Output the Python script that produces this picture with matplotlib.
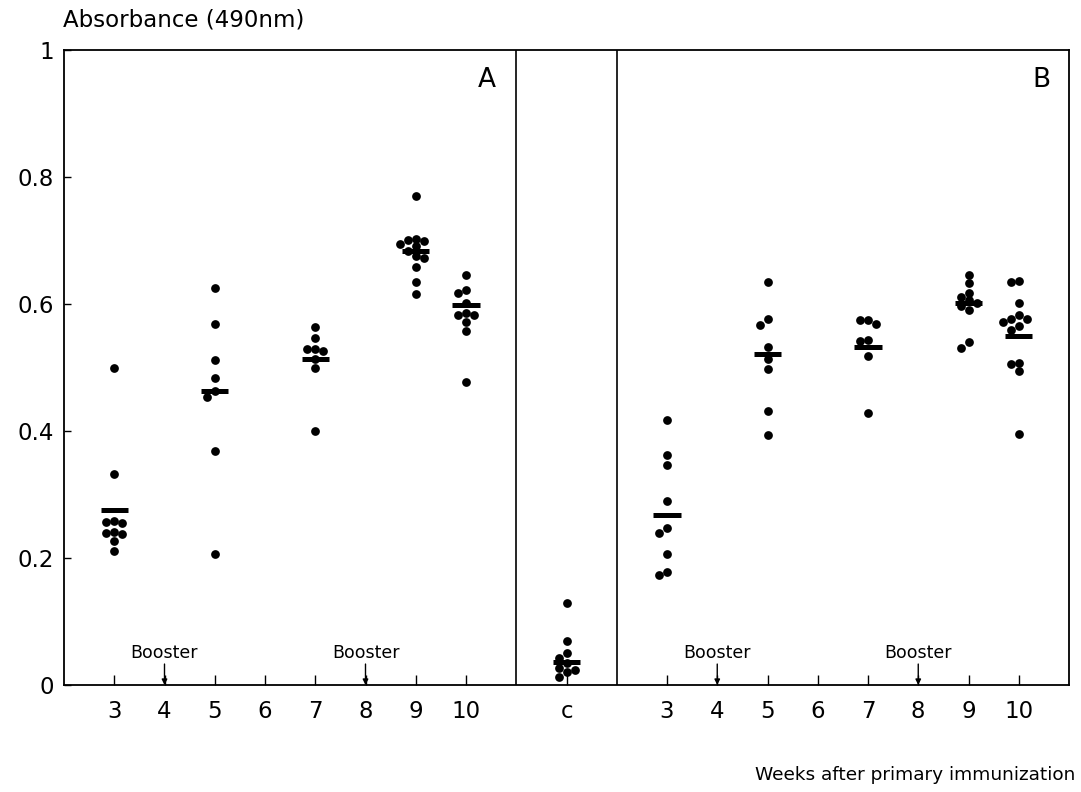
import matplotlib
matplotlib.use("Agg")
import matplotlib.pyplot as plt

# absorbance values, one list per group
a_week3 = [0.499, 0.332, 0.259, 0.256, 0.255, 0.241, 0.240, 0.238, 0.226, 0.211]
a_week5 = [0.625, 0.569, 0.512, 0.483, 0.463, 0.454, 0.368, 0.207]
a_week7 = [0.564, 0.546, 0.529, 0.529, 0.526, 0.513, 0.499, 0.400]
a_week9 = [0.770, 0.703, 0.701, 0.700, 0.694, 0.691, 0.684, 0.676, 0.673, 0.659, 0.635, 0.616]
a_week10 = [0.645, 0.622, 0.618, 0.601, 0.586, 0.582, 0.582, 0.572, 0.557, 0.477]

control = [0.129, 0.069, 0.051, 0.042, 0.035, 0.026, 0.024, 0.021, 0.012]

b_week3 = [0.417, 0.362, 0.346, 0.290, 0.248, 0.239, 0.206, 0.178, 0.173]
b_week5 = [0.635, 0.576, 0.567, 0.532, 0.513, 0.498, 0.431, 0.393]
b_week7 = [0.575, 0.575, 0.569, 0.544, 0.541, 0.518, 0.429]
b_week9 = [0.645, 0.633, 0.618, 0.611, 0.606, 0.602, 0.597, 0.591, 0.540, 0.530]
b_week10 = [0.636, 0.634, 0.602, 0.583, 0.577, 0.577, 0.572, 0.565, 0.559, 0.507, 0.505, 0.495, 0.395]

sampled_weeks = [3, 5, 7, 9, 10]
a_means = [0.275, 0.463, 0.513, 0.684, 0.598]
b_means = [0.267, 0.521, 0.532, 0.602, 0.549]
control_mean = 0.037

week_labels = ['3', '4', '5', '6', '7', '8', '9', '10']
booster_weeks = [4, 8]

a_groups = [a_week3, a_week5, a_week7, a_week9, a_week10]
b_groups = [b_week3, b_week5, b_week7, b_week9, b_week10]

W, H, DPI = 1081, 792, 100
fig = plt.figure(figsize=(W / DPI, H / DPI), dpi=DPI)
ax = fig.add_axes([64 / W, 1 - 685 / H, (1069 - 64) / W, (685 - 50) / H])

XMAX = 20
PX_X = (1069 - 64) / XMAX   # pixels per x unit
PX_Y = (685 - 50) / 1.0     # pixels per absorbance unit


def pos_a(week):
    return week - 2


def pos_b(week):
    return week + 9


POS_C = 10


def swarm(values, step_px=8.0, min_px=7.5):
    # simple beeswarm: shift a dot sideways until it no longer overlaps
    placed, offs = [], []
    for v in values:
        for k in [0, -1, 1, -2, 2, -3, 3]:
            if all(((k - pk) * step_px) ** 2 + ((v - pv) * PX_Y) ** 2 >= min_px ** 2
                   for pk, pv in placed):
                break
        placed.append((k, v))
        offs.append(k * step_px / PX_X)
    return offs


def draw_group(x, values, mean):
    offs = swarm(values)
    ax.plot([x + o for o in offs], values, 'o', color='black', ms=6.3, mew=0, zorder=3)
    ax.hlines(mean, x - 0.27, x + 0.27, color='black', lw=3.6, zorder=4)


for wk, vals, m in zip(sampled_weeks, a_groups, a_means):
    draw_group(pos_a(wk), vals, m)
for wk, vals, m in zip(sampled_weeks, b_groups, b_means):
    draw_group(pos_b(wk), vals, m)
draw_group(POS_C, control, control_mean)

# panel separators
for xs in [9, 11]:
    ax.axvline(xs, color='black', lw=1.2)

ax.set_xlim(0, XMAX)
ax.set_ylim(0, 1)

weeks_all = [int(w) for w in week_labels]
xt = [pos_a(w) for w in weeks_all] + [POS_C] + [pos_b(w) for w in weeks_all]
ax.set_xticks(xt)
ax.set_xticklabels(week_labels + ['c'] + week_labels, fontsize=16.5)
ax.set_yticks([0, 0.2, 0.4, 0.6, 0.8, 1])
ax.set_yticklabels(['0', '0.2', '0.4', '0.6', '0.8', '1'], fontsize=16.5)
ax.tick_params(axis='x', direction='in', length=7, width=1, pad=11)
ax.tick_params(axis='y', direction='in', length=5, width=1, pad=7)
for s in ax.spines.values():
    s.set_linewidth(1.3)

# booster markers
for bw in booster_weeks:
    for x in [pos_a(bw), pos_b(bw)]:
        ax.text(x, 0.051, 'Booster', ha='center', va='center', fontsize=12.5)
        ax.annotate('', xy=(x, 0.0), xytext=(x, 0.033),
                    arrowprops=dict(arrowstyle='-|>', color='black', lw=1, mutation_scale=8,
                                    shrinkA=0, shrinkB=0))

ax.text(8.42, 0.953, 'A', ha='center', va='center', fontsize=19)
ax.text(19.46, 0.953, 'B', ha='center', va='center', fontsize=19)

fig.text(63 / W, 1 - 20 / H, 'Absorbance (490nm)', ha='left', va='center', fontsize=16.5)
fig.text(1075 / W, 1 - 775 / H, 'Weeks after primary immunization', ha='right', va='center',
         fontsize=13.3)

fig.savefig('out.png', dpi=DPI)
